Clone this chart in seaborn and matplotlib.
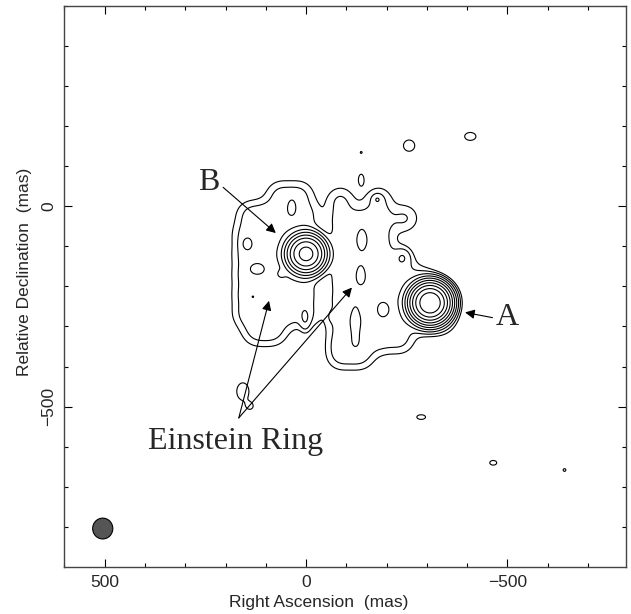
import numpy as np
import matplotlib
matplotlib.use("Agg")
import matplotlib.pyplot as plt
from matplotlib.patches import Ellipse
import seaborn as sns

# %%
# Compact images A and B (RA, Dec in mas, peak in units of the lowest contour)
core_ra = [-308, 0]
core_dec = [-241, -119]
core_peak = [1050, 350]
core_sig = [21, 21]

# Diffuse ring emission, left lobe (around B)
left_ra = [65, 15,
           140, 95, 50, 0,
           150, 100, 50, 0,
           150, 100, 50, 0,
           150, 100, 50, 0,
           150, 100, 50, 0,
           150, 100, 50, 0,
           125, 80]
left_dec = [30, 30,
            -20, -20, -20, -20,
            -70, -70, -70, -70,
            -120, -120, -120, -120,
            -170, -170, -170, -170,
            -220, -220, -220, -220,
            -270, -270, -270, -270,
            -315, -315]

# Diffuse ring emission, right lobe (around A)
right_ra = [-85, -180,
            -85, -135, -185, -245,
            -85, -135, -185,
            -85, -135, -185, -235,
            -85, -135, -185, -235, -285,
            -85, -135, -185, -235, -285, -335,
            -85, -135, -185, -235, -285, -335,
            -85, -135, -185, -235,
            -85, -135]
right_dec = [15, 15,
             -35, -35, -35, -30,
             -85, -85, -85,
             -135, -135, -135, -135,
             -185, -185, -185, -185, -185,
             -235, -235, -235, -235, -235, -235,
             -285, -285, -285, -285, -285, -285,
             -335, -335, -335, -335,
             -375, -375]
ring_flux = 2.0

# Knots inside the ring and weak noise peaks outside it
knot_ra = [35, 147, 122, 62, 132, 2, -65, -139, -136, -122, -192, -241, -177,
           -137, -137, -256, -408, -286, -465, -642, 157, 139]
knot_dec = [-2, -94, -156, -169, -226, -283, -275, -84, -172, -290, -258, -127, 17,
            134, 67, 151, 174, -526, -640, -658, -462, -499]
knot_sx = [9, 10, 14, 8, 5, 9, 8, 10, 10, 11, 12, 12, 8,
           8, 7.5, 15.5, 17, 15, 12, 8, 15.5, 10]
knot_sy = [17, 12, 11, 8, 5, 20, 10, 22, 20, 34, 14, 14, 8,
           8, 15, 15.5, 12, 8, 8, 8, 22, 10]
knot_amp = [1.7, 2.2, 1.9, 1.3, 1.0, 2.3, 0.9, 1.8, 1.6, 1.7, 1.8, 2.0, 2.0,
            1.05, 1.4, 1.5, 1.4, 1.3, 1.3, 1.1, 1.6, 1.2]

levels = [1, 2, 4, 8, 16, 32, 64, 128, 256, 512]

# restoring beam
beam_ra, beam_dec = 505, -804
beam_w, beam_h = 50, 52

# %%
ra = np.linspace(600, -794, 700)
dec = np.linspace(-900, 500, 700)
X, Y = np.meshgrid(ra, dec)


def blob(x0, y0, sx, sy, amp):
    return amp * np.exp(-0.5 * (((X - x0) / sx) ** 2 + ((Y - y0) / sy) ** 2))


img = np.zeros_like(X)
for x0, y0, p, s in zip(core_ra, core_dec, core_peak, core_sig):
    img += blob(x0, y0, s, s, p)
for x0, y0 in zip(left_ra + right_ra, left_dec + right_dec):
    img += blob(x0, y0, 25, 25, ring_flux)
for x0, y0, sx, sy, a in zip(knot_ra, knot_dec, knot_sx, knot_sy, knot_amp):
    img += blob(x0, y0, sx, sy, a)

# %%
sns.set_theme(style="ticks")
plt.rcParams["font.family"] = ["Liberation Sans", "DejaVu Sans"]

fig = plt.figure(figsize=(6.31, 6.14), dpi=100)
ax = fig.add_axes([0.1022, 0.0765, 0.8894, 0.9142])
ax.contour(X, Y, img, levels=levels, colors="black", linewidths=0.8)

ax.add_patch(Ellipse((beam_ra, beam_dec), beam_w, beam_h,
                     facecolor="#555555", edgecolor="black", lw=0.8))

ax.set_xlim(600, -794)
ax.set_ylim(-900, 500)
ax.set_xticks([500, 0, -500])
ax.set_yticks([0, -500])
ax.set_xticks(np.arange(-700, 601, 100), minor=True)
ax.set_yticks(np.arange(-800, 501, 100), minor=True)
ax.tick_params(which="both", direction="in", top=True, right=True,
               color="black", width=0.8, labelsize=12.5)
ax.tick_params(which="major", length=6, pad=6)
ax.tick_params(which="minor", length=3)
for lab in ax.get_yticklabels():
    lab.set_rotation(90)
    lab.set_va("center")
for sp in ax.spines.values():
    sp.set_color("#444444")
    sp.set_linewidth(1.0)

fig.text(319 / 631, 1 - 602 / 614, "Right Ascension  (mas)", ha="center", va="center", size=12.5)
fig.text(25 / 631, 1 - 272 / 614, "Relative Declination  (mas)", ha="center", va="center",
         size=12.5, rotation=90)

serif = ["Liberation Serif", "DejaVu Serif"]
arrow = dict(arrowstyle="-|>", mutation_scale=14, lw=0.8, color="black",
             shrinkA=0, shrinkB=0)
ax.text(241, 58, "B", family=serif, size=23, ha="center", va="center")
ax.annotate("", xy=(75, -67), xytext=(206, 47), arrowprops=arrow)
ax.text(-500, -278, "A", family=serif, size=23, ha="center", va="center")
ax.annotate("", xy=(-395, -265), xytext=(-463, -278), arrowprops=arrow)
ax.text(174, -586, "Einstein Ring", family=serif, size=23, ha="center", va="center")
ax.annotate("", xy=(92, -236), xytext=(167, -528), arrowprops=arrow)
ax.annotate("", xy=(-114, -203), xytext=(167, -528), arrowprops=arrow)

fig.savefig("out.png", dpi=100)
